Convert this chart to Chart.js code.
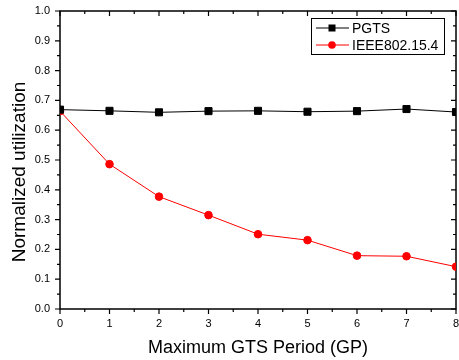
<!DOCTYPE html>
<html>
<head>
<meta charset="utf-8">
<script src="https://cdn.jsdelivr.net/npm/chart.js@4"></script>
<style>
  html, body { margin: 0; padding: 0; background: #fff; }
  #wrap { width: 459px; height: 360px; }
</style>
</head>
<body>
<div id="wrap"><canvas id="c" width="459" height="360"></canvas></div>
<script>
// datos
const periodos = [0, 1, 2, 3, 4, 5, 6, 7, 8];
const pgts = [0.669, 0.665, 0.660, 0.664, 0.665, 0.662, 0.664, 0.671, 0.661];
const ieee = [0.664, 0.486, 0.377, 0.315, 0.251, 0.231, 0.179, 0.177, 0.142];
const nombres = ['PGTS', 'IEEE802.15.4'];
const tituloX = 'Maximum GTS Period (GP)';
const tituloY = 'Normalized utilization';

const FUENTE = '"Liberation Sans", Arial, sans-serif';

const aPuntos = (ys) => periodos.map((x, i) => ({ x, y: ys[i] }));

// marco, marcas de ejes y titulos
const marcoPlugin = {
    id: 'marco',
    beforeDatasetsDraw(chart) {
        const { ctx, chartArea: a, scales } = chart;
        ctx.save();
        ctx.strokeStyle = '#000';
        ctx.lineWidth = 1.5;
        ctx.strokeRect(a.left, a.top, a.right - a.left, a.bottom - a.top);
        ctx.lineWidth = 1.2;
        ctx.beginPath();
        for (let v = 0; v <= 8.001; v += 0.5) {
            const px = scales.x.getPixelForValue(v);
            const len = Math.abs(v - Math.round(v)) < 0.01 ? 5 : 3;
            ctx.moveTo(px, a.bottom); ctx.lineTo(px, a.bottom + len);
            ctx.moveTo(px, a.top); ctx.lineTo(px, a.top + len);
        }
        for (let k = 0; k <= 20; k++) {
            const py = scales.y.getPixelForValue(k * 0.05);
            const len = k % 2 === 0 ? 5 : 3;
            ctx.moveTo(a.left - len, py); ctx.lineTo(a.left, py);
            ctx.moveTo(a.right - len, py); ctx.lineTo(a.right, py);
        }
        ctx.stroke();

        // etiquetas del eje x
        ctx.fillStyle = '#000';
        ctx.font = '11px ' + FUENTE;
        ctx.textAlign = 'center';
        ctx.textBaseline = 'middle';
        periodos.forEach(v => {
            ctx.fillText(String(v), scales.x.getPixelForValue(v), a.bottom + 14.5);
        });
        ctx.restore();
    },
    afterDraw(chart) {
        const { ctx, chartArea: a } = chart;
        ctx.save();
        ctx.fillStyle = '#000';
        ctx.font = '18px ' + FUENTE;
        ctx.textAlign = 'center';
        ctx.textBaseline = 'alphabetic';
        ctx.fillText(tituloX, (a.left + a.right) / 2, 353);
        ctx.translate(25, 172);
        ctx.rotate(-Math.PI / 2);
        ctx.font = '19px ' + FUENTE;
        ctx.fillText(tituloY, 0, 0);
        ctx.restore();

        // leyenda
        ctx.save();
        ctx.strokeStyle = '#000';
        ctx.lineWidth = 1;
        ctx.strokeRect(311.5, 18.5, 133, 36);
        ctx.font = '14px ' + FUENTE;
        ctx.textBaseline = 'middle';
        ctx.textAlign = 'left';
        chart.data.datasets.forEach((ds, i) => {
            const y = 28 + i * 17;
            ctx.strokeStyle = ds.borderColor;
            ctx.lineWidth = 1;
            ctx.beginPath();
            ctx.moveTo(316, y); ctx.lineTo(349, y);
            ctx.stroke();
            ctx.fillStyle = ds.pointBackgroundColor;
            if (ds.pointStyle === 'rect') {
                ctx.fillRect(332 - 3.5, y - 3.5, 7, 7);
            } else {
                ctx.beginPath();
                ctx.arc(332, y, 3.8, 0, Math.PI * 2);
                ctx.fill();
            }
            ctx.fillStyle = '#000';
            ctx.fillText(ds.label, 352, y + 1);
        });
        ctx.restore();
    }
};

new Chart(document.getElementById('c').getContext('2d'), {
    type: 'line',
    data: {
        datasets: [{
            label: nombres[0],
            data: aPuntos(pgts),
            borderColor: '#000',
            backgroundColor: '#000',
            pointBackgroundColor: '#000',
            pointBorderColor: '#000',
            pointStyle: 'rect',
            pointRadius: 5,
            borderWidth: 1,
            clip: 0
        }, {
            label: nombres[1],
            data: aPuntos(ieee),
            borderColor: '#ff0000',
            backgroundColor: '#ff0000',
            pointBackgroundColor: '#ff0000',
            pointBorderColor: '#ff0000',
            pointStyle: 'circle',
            pointRadius: 3.8,
            borderWidth: 1,
            clip: 0
        }]
    },
    options: {
        responsive: false,
        animation: false,
        events: [],
        layout: { autoPadding: false, padding: { top: 11, right: 3, left: 0, bottom: 0 } },
        plugins: { legend: { display: false }, tooltip: { enabled: false } },
        scales: {
            x: {
                type: 'linear',
                min: 0, max: 8,
                grid: { display: false, drawTicks: false },
                border: { display: false },
                ticks: { display: false, stepSize: 1 },
                afterFit: (s) => { s.height = 51; s.paddingLeft = 0; s.paddingRight = 0; }
            },
            y: {
                min: 0, max: 1,
                grid: { display: false, drawTicks: false },
                border: { display: false },
                ticks: {
                    stepSize: 0.1,
                    padding: 10,
                    color: '#000',
                    font: { family: FUENTE, size: 11 },
                    callback: (v) => v.toFixed(1)
                },
                afterFit: (s) => { s.width = 60; s.paddingTop = 0; s.paddingBottom = 0; }
            }
        }
    },
    plugins: [marcoPlugin]
});
</script>
</body>
</html>
